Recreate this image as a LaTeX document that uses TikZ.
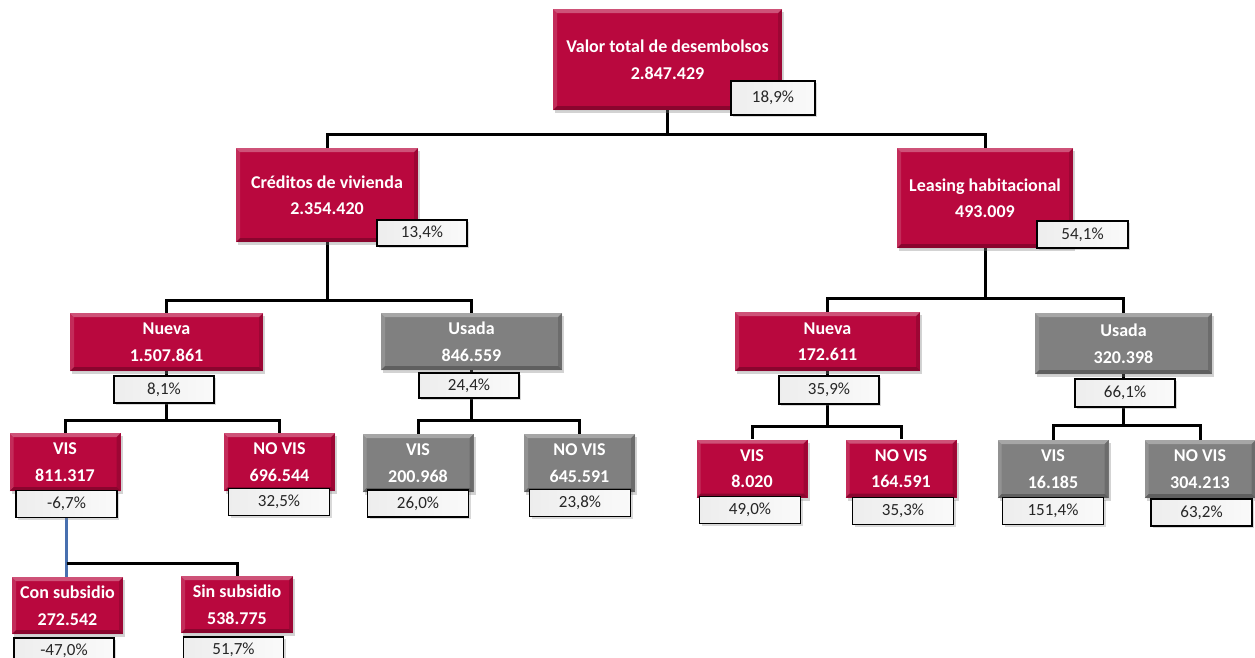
\documentclass[tikz,border=0pt]{standalone}
\usepackage{fontspec}
\setmainfont{Carlito}
\usetikzlibrary{shadows}
\usetikzlibrary{backgrounds}
\definecolor{crimson}{RGB}{185,8,62}
\definecolor{boxgray}{RGB}{128,128,128}
\definecolor{linkblue}{RGB}{72,112,175}
\tikzset{
	bevel/.style={path picture={
		\path (path picture bounding box.north west) coordinate (pnw)
		      (path picture bounding box.north east) coordinate (pne)
		      (path picture bounding box.south west) coordinate (psw)
		      (path picture bounding box.south east) coordinate (pse);
		\fill[white,opacity=.30] (pnw) -- (pne) -- ([shift={(-4pt,-4pt)}]pne) -- ([shift={(4pt,-4pt)}]pnw) -- cycle;
		\fill[white,opacity=.15] (pnw) -- ([shift={(4pt,-4pt)}]pnw) -- ([shift={(4pt,4pt)}]psw) -- (psw) -- cycle;
		\fill[black,opacity=.15] (pne) -- ([shift={(-4pt,-4pt)}]pne) -- ([shift={(-4pt,4pt)}]pse) -- (pse) -- cycle;
		\fill[black,opacity=.25] (psw) -- ([shift={(4pt,4pt)}]psw) -- ([shift={(-4pt,4pt)}]pse) -- (pse) -- cycle;
	}},
	sz/.style 2 args={minimum width=#1pt,minimum height=#2pt},
	redbox/.style={rectangle,fill=crimson,bevel,text=white,inner sep=0pt,align=center,
		font=\bfseries\fontsize{18}{26.5}\selectfont,
		drop shadow={shadow xshift=2pt,shadow yshift=-3pt,opacity=.35}},
	graybox/.style={redbox,fill=boxgray},
	pct/.style={rectangle,draw=black,line width=1.8pt,left color=black!7,right color=black!2,
		text=black!85,inner sep=0pt,font=\fontsize{17}{20}\selectfont,
		drop shadow={shadow xshift=2pt,shadow yshift=-2pt,opacity=.3}},
	conn/.style={line width=3pt,black},
	link/.style={line width=3pt,linkblue},
}
\begin{document}
\begin{tikzpicture}[x=1pt,y=-1pt]
\useasboundingbox (0,0) rectangle (1255,657);

\node[redbox,sz={229}{101}] (valor) at (667.5,59.5) {Valor total de desembolsos\\2.847.429};
\node[pct,sz={84}{34}] (valorPct) at (773,98) {18,9\%};

\node[redbox,sz={182}{94}] (cred) at (327,195) {Créditos de vivienda\\2.354.420};
\node[pct,sz={90}{26}] (credPct) at (422,233) {13,4\%};
\node[redbox,sz={176}{100}] (leas) at (985,198) {Leasing habitacional\\493.009};
\node[pct,sz={91}{27}] (leasPct) at (1082.5,234.5) {54,1\%};

\node[redbox,sz={193}{58}] (credNueva) at (166.5,342) {Nueva\\1.507.861};
\node[pct,sz={100}{27}] (credNuevaPct) at (164,389.5) {8,1\%};
\node[graybox,sz={181}{57}] (credUsada) at (471.5,341.5) {Usada\\846.559};
\node[pct,sz={100}{25}] (credUsadaPct) at (469,385.5) {24,4\%};
\node[redbox,sz={185}{59}] (leasNueva) at (827.5,341.5) {Nueva\\172.611};
\node[pct,sz={100}{28}] (leasNuevaPct) at (829,390) {35,9\%};
\node[graybox,sz={177}{61}] (leasUsada) at (1123.5,343.5) {Usada\\320.398};
\node[pct,sz={100}{28}] (leasUsadaPct) at (1125,393) {66,1\%};

\foreach \nm/\x/\y/\fc/\ttl/\val/\px/\py/\pv in {
	cnVis/65/462/crimson/VIS/811.317/66.5/504/{-6,7\%},
	cnNoVis/279.5/462/crimson/NO VIS/696.544/279/502/{32,5\%},
	cuVis/418/463/boxgray/VIS/200.968/418/503.5/{26,0\%},
	cuNoVis/579.5/463/boxgray/NO VIS/645.591/580/503/{23,8\%},
	lnVis/752/468.5/crimson/VIS/8.020/750/510/{49,0\%},
	lnNoVis/901/468.5/crimson/NO VIS/164.591/903/511/{35,3\%},
	luVis/1053/469/boxgray/VIS/16.185/1053/511/{151,4\%},
	luNoVis/1200/469/boxgray/NO VIS/304.213/1201.5/512.5/{63,2\%}}
{
	\node[redbox,fill=\fc,sz={111}{58}] (\nm) at (\x,\y) {\ttl\\\val};
	\node[pct,sz={101}{27}] (\nm Pct) at (\px,\py) {\pv};
}

\node[redbox,sz={111}{57}] (conSub) at (67.5,605.5) {Con subsidio\\272.542};
\node[pct,sz={100}{26}] (conSubPct) at (64,651) {-47,0\%};
\node[redbox,sz={112}{57}] (sinSub) at (237,604.5) {Sin subsidio\\538.775};
\node[pct,sz={100}{26}] (sinSubPct) at (233.5,650) {51,7\%};

\begin{scope}[on background layer]
\coordinate (j0) at (667.5,134);
\draw[conn] (valor.south) -- (j0) -| (cred.north);
\draw[conn] (j0) -| (leas.north);
\coordinate (j1) at (327,300);
\draw[conn] (cred.south) -- (j1) -| (credNueva.north);
\draw[conn] (j1) -| (credUsada.north);
\coordinate (j2) at (985,298);
\draw[conn] (leas.south) -- (j2) -| (leasNueva.north);
\draw[conn] (j2) -| (leasUsada.north);
\coordinate (j3) at (166.5,420);
\draw[conn] (credNueva.south) -- (j3) -| (cnVis.north);
\draw[conn] (j3) -| (cnNoVis.north);
\coordinate (j4) at (471.5,420);
\draw[conn] (credUsada.south) -- (j4) -| (cuVis.north);
\draw[conn] (j4) -| (cuNoVis.north);
\coordinate (j5) at (827.5,426);
\draw[conn] (leasNueva.south) -- (j5) -| (lnVis.north);
\draw[conn] (j5) -| (lnNoVis.north);
\coordinate (j6) at (1123.5,425);
\draw[conn] (leasUsada.south) -- (j6) -| (luVis.north);
\draw[conn] (j6) -| (luNoVis.north);
% rama de subsidio
\coordinate (j7) at (66.5,563);
\draw[link] (cnVisPct.south) -- (cnVisPct.south |- conSub.north);
\draw[conn] (j7) -| (sinSub.north);
\end{scope}
\end{tikzpicture}
\end{document}
